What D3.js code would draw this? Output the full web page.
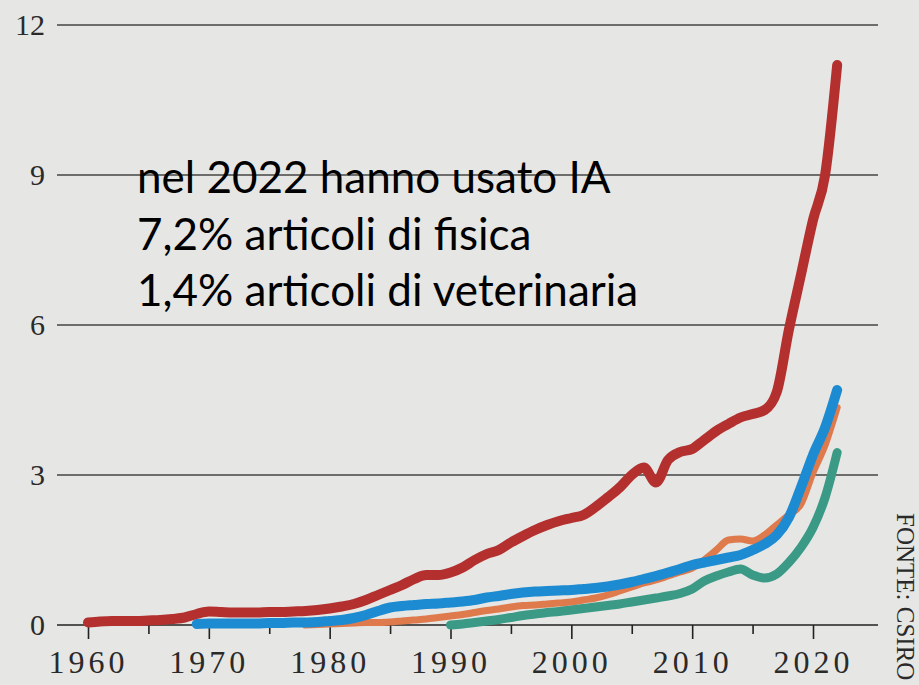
<!DOCTYPE html>
<html>
<head>
<meta charset="utf-8">
<script src="https://cdn.jsdelivr.net/npm/d3@7"></script>
<style>
  body { margin: 0; background: #e6e6e4; }
  svg { display: block; }
</style>
</head>
<body>
<svg width="919" height="685"></svg>
<script>
let years = d3.range(1960, 2023);

// quota di articoli che usano IA (%)
let fisica = [0.05, 0.07, 0.08, 0.08, 0.08, 0.09, 0.1, 0.12, 0.15, 0.22,
  0.27, 0.26, 0.25, 0.25, 0.25, 0.26, 0.26, 0.27, 0.28, 0.3,
  0.33, 0.37, 0.42, 0.5, 0.6, 0.7, 0.8, 0.92, 1.0, 1.0,
  1.05, 1.15, 1.3, 1.42, 1.5, 1.65, 1.78, 1.9, 2.0, 2.08,
  2.14, 2.2, 2.36, 2.55, 2.75, 3.0, 3.15, 2.85, 3.3, 3.46,
  3.52, 3.7, 3.88, 4.02, 4.15, 4.22, 4.3, 4.66, 5.9, 7.0,
  8.1, 9.0, 11.2];

let bluYears = d3.range(1969, 2023);
let blu = [0.02, 0.03, 0.03, 0.03, 0.03, 0.03, 0.04, 0.04, 0.05, 0.05,
  0.06, 0.08, 0.1, 0.14, 0.2, 0.28, 0.35, 0.38, 0.4, 0.42,
  0.43, 0.45, 0.47, 0.5, 0.55, 0.58, 0.62, 0.65, 0.67, 0.68,
  0.69, 0.7, 0.72, 0.74, 0.77, 0.81, 0.86, 0.92, 0.98, 1.05,
  1.12, 1.2, 1.25, 1.3, 1.35, 1.4, 1.5, 1.62, 1.8, 2.15,
  2.75, 3.4, 3.95, 4.7];

let arancioYears = d3.range(1978, 2023);
let arancio = [0.0, 0.01, 0.02, 0.03, 0.04, 0.05, 0.05, 0.06, 0.08, 0.1,
  0.12, 0.15, 0.18, 0.21, 0.25, 0.29, 0.32, 0.36, 0.39, 0.4,
  0.42, 0.44, 0.46, 0.5, 0.54, 0.6, 0.68, 0.76, 0.84, 0.9,
  0.98, 1.06, 1.14, 1.3, 1.5, 1.7, 1.72, 1.68, 1.8, 2.0,
  2.2, 2.42, 3.05, 3.6, 4.35];

let verdeYears = d3.range(1990, 2023);
let verde = [0.0, 0.02, 0.05, 0.08, 0.11, 0.15, 0.19, 0.22, 0.25, 0.27,
  0.3, 0.33, 0.36, 0.39, 0.42, 0.46, 0.5, 0.54, 0.58, 0.63,
  0.72, 0.88, 0.98, 1.06, 1.12, 1.0, 0.94, 1.02, 1.25, 1.55,
  1.95, 2.55, 3.45];

let yTicks = [0, 3, 6, 9, 12];
let xMajor = [1960, 1970, 1980, 1990, 2000, 2010, 2020];
let xMinor = [1965, 1975, 1985, 1995, 2005, 2015];

let note = ["nel 2022 hanno usato IA", "7,2% articoli di fisica", "1,4% articoli di veterinaria"];
let source = "FONTE: CSIRO";

let svg = d3.select("svg");

let x = d3.scaleLinear().domain([1960, 2020]).range([88, 813]);
let y = d3.scaleLinear().domain([0, 12]).range([625, 25]);
let gridLeft = 57, gridRight = 878;

// griglia orizzontale
svg.append("g")
  .selectAll("line")
  .data(yTicks)
  .enter().append("line")
  .attr("x1", gridLeft)
  .attr("x2", gridRight)
  .attr("y1", d => y(d))
  .attr("y2", d => y(d))
  .attr("stroke", d => d == 0 ? "#222" : "#444")
  .attr("stroke-width", d => d == 0 ? 1.6 : 1.3);

svg.append("g")
  .selectAll("text")
  .data(yTicks)
  .enter().append("text")
  .attr("x", 45)
  .attr("y", d => y(d) + 10)
  .attr("text-anchor", "end")
  .attr("font-family", "Liberation Serif, serif")
  .attr("font-size", 30)
  .attr("fill", "#2a2a2a")
  .text(d => d);

// asse x
let axMajor = svg.append("g")
  .attr("transform", `translate(0,${y(0)})`)
  .call(d3.axisBottom(x).tickValues(xMajor).tickSize(14).tickFormat(d3.format("d")));
let axMinor = svg.append("g")
  .attr("transform", `translate(0,${y(0)})`)
  .call(d3.axisBottom(x).tickValues(xMinor).tickSize(9).tickFormat(""));

[axMajor, axMinor].forEach(a => {
  a.select(".domain").remove();
  a.selectAll(".tick line").attr("stroke", "#222").attr("stroke-width", 1.6);
});
axMajor.selectAll(".tick text")
  .attr("y", 48)
  .attr("dy", 0)
  .attr("font-family", "Liberation Serif, serif")
  .attr("font-size", 32)
  .attr("letter-spacing", 4)
  .attr("fill", "#2a2a2a");

// linee
let line = d3.line()
  .x(d => x(d[0]))
  .y(d => y(d[1]))
  .curve(d3.curveMonotoneX);

let series = [
  {name: "arancio", years: arancioYears, values: arancio, color: "#df7a4c", width: 7},
  {name: "verde", years: verdeYears, values: verde, color: "#3a9a86", width: 9},
  {name: "blu", years: bluYears, values: blu, color: "#1d8bd2", width: 10},
  {name: "fisica", years: years, values: fisica, color: "#b3302f", width: 10}
];

svg.append("g")
  .selectAll("path")
  .data(series)
  .enter().append("path")
  .attr("d", s => line(s.years.map((yr, i) => [yr, s.values[i]])))
  .attr("fill", "none")
  .attr("stroke", s => s.color)
  .attr("stroke-width", s => s.width)
  .attr("stroke-linecap", "round")
  .attr("stroke-linejoin", "round");

// nota
svg.append("g")
  .selectAll("text")
  .data(note)
  .enter().append("text")
  .attr("x", 137)
  .attr("y", (d, i) => 193 + i * 56.5)
  .attr("font-family", "Lato, sans-serif")
  .attr("font-size", 44)
  .attr("fill", "#000")
  .text(d => d);

// fonte
svg.append("text")
  .attr("transform", "translate(897,513) rotate(90)")
  .attr("font-family", "Liberation Serif, serif")
  .attr("font-size", 25)
  .attr("fill", "#2a2a2a")
  .text(source);
</script>
</body>
</html>
